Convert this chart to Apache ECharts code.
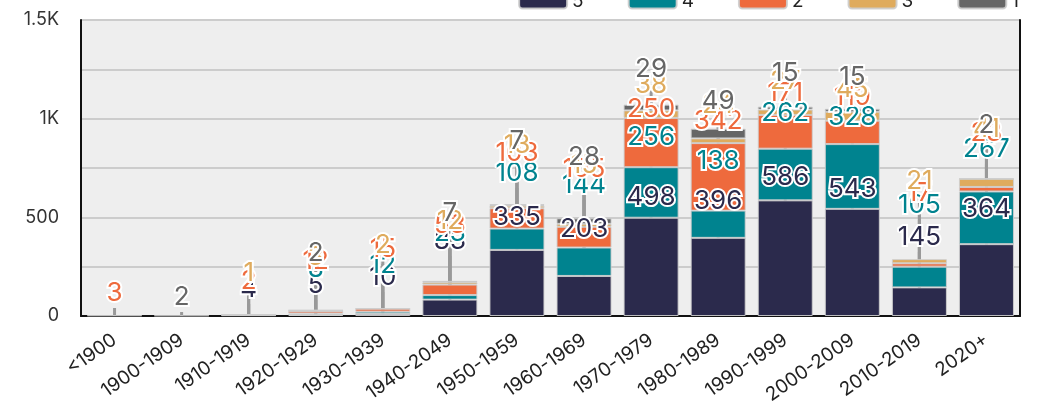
<!DOCTYPE html>
<html>
<head>
<meta charset="utf-8">
<script src="https://cdn.jsdelivr.net/npm/echarts@6/dist/echarts.min.js"></script>
<style>
  html, body { margin: 0; padding: 0; background: #fff; }
  #chart { width: 1051px; height: 420px; }
</style>
</head>
<body>
<div id="chart"></div>
<script>
// Decades of construction
const categories = ['<1900', '1900-1909', '1910-1919', '1920-1929', '1930-1939', '1940-2049', '1950-1959',
  '1960-1969', '1970-1979', '1980-1989', '1990-1999', '2000-2009', '2010-2019', '2020+'];

// Counts per rating, stacked bottom to top
const rating5 = [null, null, 4, 5, 10, 83, 335, 203, 498, 396, 586, 543, 145, 364];
const rating4 = [null, null, null, 8, 12, 23, 108, 144, 256, 138, 262, 328, 105, 267];
const rating2 = [3, null, 2, 12, 15, 53, 103, 105, 250, 342, 171, 119, 17, 23];
const rating3 = [null, null, 1, 3, 2, 12, 13, 15, 38, 24, 27, 45, 21, 41];
const rating1 = [null, 2, null, 2, null, 7, 7, 28, 29, 49, 15, 15, null, 2];

const seriesNames = ['5', '4', '2', '3', '1'];
const seriesData = [rating5, rating4, rating2, rating3, rating1];
const colors = ['#2b2a4c', '#00838f', '#ee6a3d', '#dfab5d', '#666666'];

const FONT = 'Inter';
const LABEL_SIZE = 26;
// Vertical band the value labels are spread into
const LABEL_TOP = 54, LABEL_BOTTOM = 318;

const chart = echarts.init(document.getElementById('chart'), null, { renderer: 'canvas' });

// Label rects collected on the first pass, vertical offsets applied on the second.
const labelRects = {};
let labelOffsets = null;

function labelLayout(params) {
  const key = params.seriesIndex + '_' + params.dataIndex;
  if (!labelOffsets) {
    const r = params.labelRect;
    labelRects[key] = { x: r.x, y: r.y, width: r.width, height: r.height };
    return {};
  }
  return { dy: labelOffsets[key] || 0 };
}

// Global vertical de-overlap of all value labels (push down, then fit into bounds).
function shiftOnY(list, minBound, maxBound) {
  const len = list.length;
  if (len < 2) return;
  list.sort((a, b) => a.rect.y - b.rect.y);
  let lastPos = 0;
  for (let i = 0; i < len; i++) {
    const rect = list[i].rect;
    const delta = rect.y - lastPos;
    if (delta < 0) rect.y -= delta;
    lastPos = rect.y + rect.height;
  }
  const first = list[0], last = list[len - 1];
  let minGap, maxGap;
  function updateGaps() {
    minGap = first.rect.y - minBound;
    maxGap = maxBound - last.rect.y - last.rect.height;
  }
  function shiftList(delta, start, end) {
    for (let i = start; i < end; i++) list[i].rect.y += delta;
  }
  function squeezeGaps(delta, maxPct) {
    const gaps = [];
    let total = 0;
    for (let i = 1; i < len; i++) {
      const p = list[i - 1].rect;
      const g = Math.max(list[i].rect.y - p.y - p.height, 0);
      gaps.push(g);
      total += g;
    }
    if (!total) return;
    const pct = Math.min(Math.abs(delta) / total, maxPct);
    if (delta > 0) {
      for (let i = 0; i < len - 1; i++) shiftList(gaps[i] * pct, 0, i + 1);
    } else {
      for (let i = len - 1; i > 0; i--) shiftList(-gaps[i - 1] * pct, i, len);
    }
  }
  function takeBoundsGap(gapThis, gapOther, dir) {
    if (gapThis < 0) {
      const move = Math.min(gapOther, -gapThis);
      if (move > 0) {
        shiftList(move * dir, 0, len);
        const remained = move + gapThis;
        if (remained < 0) squeezeGaps(-remained * dir, 1);
      } else {
        squeezeGaps(-gapThis * dir, 1);
      }
    }
  }
  function squeezeWhenBailout(delta) {
    const dir = delta < 0 ? -1 : 1;
    delta = Math.abs(delta);
    const step = Math.ceil(delta / (len - 1));
    for (let i = 0; i < len - 1; i++) {
      if (dir > 0) shiftList(step, 0, i + 1);
      else shiftList(-step, len - i - 1, len);
      delta -= step;
      if (delta <= 0) return;
    }
  }
  updateGaps();
  if (minGap < 0) squeezeGaps(-minGap, 0.8);
  if (maxGap < 0) squeezeGaps(maxGap, 0.8);
  updateGaps();
  takeBoundsGap(minGap, maxGap, 1);
  takeBoundsGap(maxGap, minGap, -1);
  updateGaps();
  if (minGap < 0) squeezeWhenBailout(-minGap);
  if (maxGap < 0) squeezeWhenBailout(maxGap);
}

function labelStyleFor(seriesIndex, dataIndex) {
  const key = seriesIndex + '_' + dataIndex;
  const moved = labelOffsets && Math.abs(labelOffsets[key] || 0) >= 1;
  if (labelOffsets && !moved) {
    // label left in place inside its own segment
    return { color: '#fff', textBorderWidth: 0 };
  }
  return { color: colors[seriesIndex], textBorderColor: '#fff', textBorderWidth: 4 };
}

function buildOption() {
  const series = seriesNames.map((name, i) => ({
    name: name,
    type: 'bar',
    stack: 'total',
    barCategoryGap: '18%',
    data: seriesData[i].map((v, j) => (v == null ? null : { value: v, label: labelStyleFor(i, j) })),
    itemStyle: { color: colors[i], borderColor: 'rgba(205,205,205,0.9)', borderWidth: 1 },
    label: { show: true, position: 'inside', fontSize: LABEL_SIZE, fontFamily: FONT },
    labelLine: { show: true, lineStyle: { color: '#999', width: 3 } },
    labelLayout: labelLayout
  }));

  return {
    animation: false,
    color: colors,
    textStyle: { fontFamily: FONT },
    legend: {
      top: -13,
      right: 27,
      itemWidth: 48,
      itemHeight: 14,
      itemGap: 44,
      textStyle: { fontSize: 19, color: '#222', fontFamily: FONT },
      data: seriesNames
    },
    grid: {
      left: 81, right: 31, top: 20, bottom: 104,
      show: true,
      backgroundColor: '#eeeeee',
      borderColor: '#999',
      borderWidth: 1
    },
    xAxis: {
      type: 'category',
      data: categories,
      axisLine: { show: true, lineStyle: { color: '#111', width: 2 } },
      axisTick: { show: false },
      axisLabel: { rotate: 35, fontSize: 19, color: '#222', fontFamily: FONT, margin: 22 }
    },
    yAxis: [{
      type: 'value',
      min: 0,
      max: 1500,
      interval: 250,
      axisLine: { show: true, lineStyle: { color: '#111', width: 2 } },
      axisTick: { show: false },
      splitLine: { lineStyle: { color: '#cccccc', width: 2 } },
      axisLabel: {
        fontSize: 18, color: '#333', fontFamily: FONT, margin: 22,
        formatter: v => {
          if (v % 500 !== 0) return '';
          if (v >= 1000) return (v / 1000) + 'K';
          return String(v);
        }
      }
    }, {
      type: 'value',
      position: 'right',
      min: 0,
      max: 1500,
      interval: 250,
      axisLine: { show: true, lineStyle: { color: '#111', width: 2 } },
      axisTick: { show: false },
      axisLabel: { show: false },
      splitLine: { show: false }
    }],
    series: series
  };
}

// First pass: measure labels where the bars put them.
chart.setOption(buildOption());

// Second pass: spread the labels vertically and redraw.
const items = Object.keys(labelRects).map(k => ({ key: k, rect: Object.assign({}, labelRects[k]), y0: labelRects[k].y }));
shiftOnY(items, LABEL_TOP, LABEL_BOTTOM);
labelOffsets = {};
items.forEach(it => { labelOffsets[it.key] = it.rect.y - it.y0; });
chart.setOption(buildOption(), true);
</script>
</body>
</html>
